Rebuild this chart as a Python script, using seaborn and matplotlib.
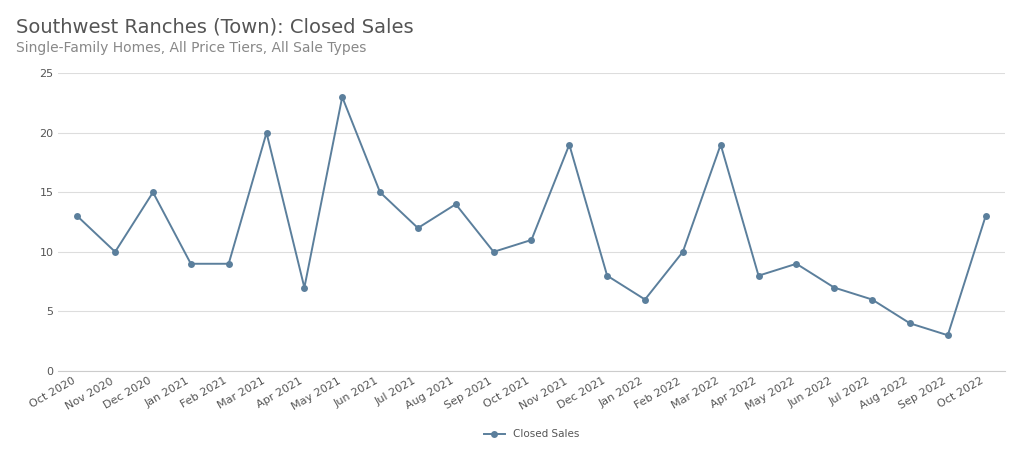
import matplotlib
matplotlib.use("Agg")
import matplotlib.pyplot as plt
import seaborn as sns
import pandas as pd

# data
months = ["Oct 2020", "Nov 2020", "Dec 2020", "Jan 2021", "Feb 2021", "Mar 2021",
          "Apr 2021", "May 2021", "Jun 2021", "Jul 2021", "Aug 2021", "Sep 2021",
          "Oct 2021", "Nov 2021", "Dec 2021", "Jan 2022", "Feb 2022", "Mar 2022",
          "Apr 2022", "May 2022", "Jun 2022", "Jul 2022", "Aug 2022", "Sep 2022",
          "Oct 2022"]
closed_sales = [13, 10, 15, 9, 9, 20, 7, 23, 15, 12, 14, 10, 11, 19, 8, 6, 10, 19,
                8, 9, 7, 6, 4, 3, 13]
y_ticks = [0, 5, 10, 15, 20, 25]

df = pd.DataFrame({"month": months, "sales": closed_sales})
df["pos"] = range(len(df))

line_color = "#5b7f9c"
text_color = "#555555"

fig = plt.figure(figsize=(10.24, 4.69), dpi=100)
ax = fig.add_axes([0.057, 0.209, 0.924, 0.635])

sns.lineplot(data=df, x="pos", y="sales", ax=ax, color=line_color,
             marker="o", markersize=5, markeredgewidth=0, linewidth=1.4,
             label="Closed Sales")

ax.set_xlim(-0.5, len(df) - 0.5)
ax.set_ylim(0, 25)
ax.set_yticks(y_ticks)
ax.set_xticks(df["pos"])
ax.set_xticklabels(months, rotation=30, ha="right", fontsize=8, color=text_color)
ax.tick_params(axis="y", labelsize=8, colors=text_color, length=0)
ax.tick_params(axis="x", length=0)
ax.set_xlabel("")
ax.set_ylabel("")
ax.grid(axis="y", color="#dddddd", linewidth=0.8)
ax.set_axisbelow(True)
for side in ["top", "right", "left"]:
    ax.spines[side].set_visible(False)
ax.spines["bottom"].set_color("#cccccc")

ax.legend(loc="upper center", bbox_to_anchor=(0.5, -0.165), frameon=False,
          fontsize=7.5, labelcolor=text_color)

fig.text(0.016, 0.93, "Southwest Ranches (Town): Closed Sales", fontsize=14,
         color="#555555")
fig.text(0.016, 0.889, "Single-Family Homes, All Price Tiers, All Sale Types",
         fontsize=10, color="#888888")

fig.savefig("out.png", dpi=100)
